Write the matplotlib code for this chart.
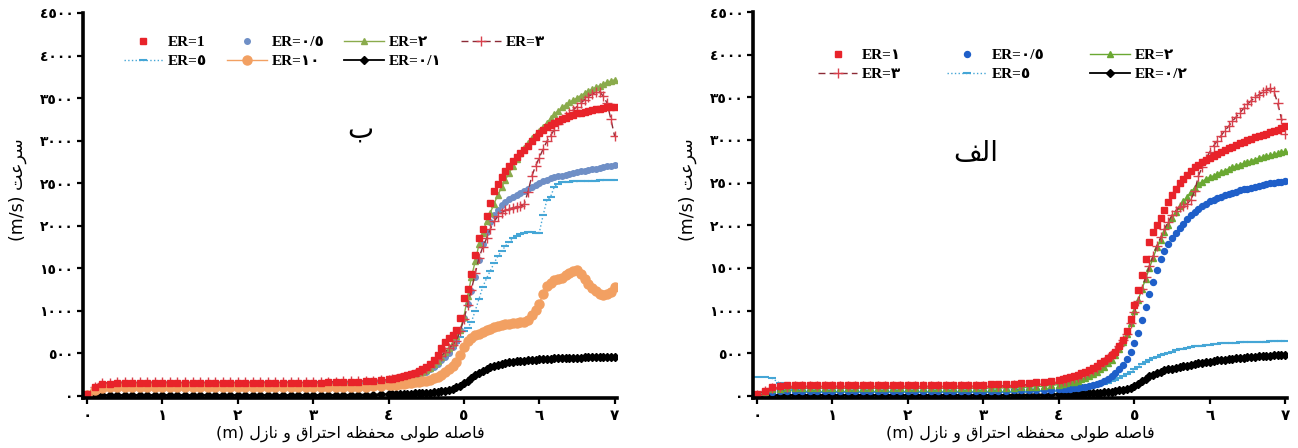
import matplotlib
matplotlib.use("Agg")
import matplotlib.pyplot as plt
import numpy as np

# distance along chamber + nozzle (m): every 0.1 m up to 4 m, then every 0.05 m
x = np.concatenate([np.round(np.arange(0, 41) * 0.1, 2),
                    np.round(4.05 + np.arange(60) * 0.05, 2)])

# ---- panel "ب" (left) ----
er1_b = [20, 100, 140, 145, 148, 150, 150, 150, 150, 150,
         150, 150, 151, 151, 151, 152, 152, 152, 152, 152,
         152, 153, 153, 153, 153, 154, 154, 154, 155, 155,
         156, 157, 158, 160, 162, 165, 168, 172, 177, 184, 193,
         203, 214, 226, 235, 246, 258, 272, 290, 310, 335,
         370, 420, 480, 560, 630, 680, 720, 780, 920, 1150,
         1260, 1430, 1650, 1850, 1960, 2110, 2270, 2410, 2490, 2570,
         2640, 2700, 2760, 2810, 2850, 2890, 2940, 2990, 3040, 3090,
         3130, 3160, 3185, 3210, 3230, 3250, 3270, 3290, 3305, 3320,
         3330, 3340, 3350, 3360, 3368, 3375, 3382, 3390, 3395, 3400]
er05_b = [15, 90, 130, 135, 138, 140, 140, 140, 140, 140,
          140, 140, 140, 140, 140, 140, 140, 140, 140, 140,
          140, 140, 141, 141, 141, 141, 142, 142, 142, 142,
          143, 144, 145, 146, 147, 149, 151, 154, 158, 163, 170,
          175, 180, 187, 195, 204, 215, 228, 245, 263, 285,
          310, 340, 375, 420, 460, 500, 570, 650, 780, 920,
          1080, 1230, 1400, 1600, 1780, 1930, 2040, 2130, 2190, 2240,
          2280, 2310, 2340, 2360, 2385, 2410, 2435, 2460, 2480, 2500,
          2520, 2540, 2555, 2570, 2580, 2590, 2600, 2610, 2620, 2630,
          2638, 2646, 2655, 2664, 2672, 2680, 2688, 2696, 2705, 2715]
er2_b = [10, 100, 140, 145, 148, 150, 150, 150, 150, 150,
         150, 150, 150, 150, 150, 150, 150, 150, 150, 150,
         150, 150, 150, 151, 151, 151, 151, 152, 152, 152,
         153, 154, 155, 156, 157, 159, 161, 164, 167, 171, 175,
         180, 185, 192, 200, 211, 225, 240, 255, 275, 300,
         330, 370, 410, 460, 510, 560, 620, 700, 780, 930,
         1170, 1400, 1580, 1780, 1920, 2050, 2150, 2260, 2360, 2450,
         2540, 2620, 2700, 2780, 2850, 2910, 2970, 3030, 3070, 3110,
         3160, 3210, 3260, 3310, 3350, 3390, 3420, 3450, 3475, 3500,
         3530, 3555, 3580, 3605, 3625, 3645, 3665, 3685, 3700, 3715]
er3_b = [10, 105, 150, 155, 158, 160, 160, 160, 160, 160,
         160, 160, 160, 160, 160, 160, 160, 160, 160, 160,
         160, 160, 161, 161, 161, 162, 162, 162, 163, 163,
         164, 165, 166, 167, 169, 171, 173, 176, 180, 185, 190,
         195, 200, 207, 215, 226, 240, 254, 270, 290, 315,
         350, 390, 430, 470, 515, 560, 600, 650, 760, 900,
         1070, 1250, 1440, 1620, 1750, 1850, 1960, 2050, 2110, 2150,
         2180, 2200, 2210, 2220, 2230, 2250, 2400, 2580, 2700, 2800,
         2900, 2990, 3060, 3130, 3190, 3250, 3290, 3320, 3360, 3400,
         3440, 3480, 3515, 3545, 3570, 3575, 3520, 3440, 3250, 3050]
er5_b = [10, 90, 125, 128, 130, 130, 130, 130, 130, 130,
         130, 130, 130, 130, 130, 130, 130, 130, 130, 130,
         130, 130, 130, 131, 131, 131, 131, 132, 132, 132,
         133, 134, 135, 136, 137, 139, 141, 144, 148, 153, 160,
         165, 170, 177, 185, 194, 205, 218, 235, 253, 275,
         300, 330, 370, 420, 460, 500, 560, 620, 690, 760,
         800, 870, 1000, 1140, 1280, 1380, 1470, 1560, 1640, 1700,
         1760, 1810, 1850, 1880, 1900, 1920, 1925, 1925, 1915, 1920,
         2120, 2300, 2340, 2460, 2490, 2510, 2515, 2518, 2520, 2520,
         2522, 2525, 2527, 2530, 2530, 2532, 2533, 2535, 2535, 2535]
er10_b = [10, 70, 95, 100, 100, 100, 100, 100, 100, 100,
          100, 100, 100, 100, 100, 100, 100, 100, 100, 100,
          100, 100, 100, 100, 100, 100, 100, 100, 100, 100,
          100, 100, 101, 102, 103, 105, 107, 110, 114, 120, 126,
          130, 133, 137, 142, 147, 152, 158, 165, 172, 180,
          192, 205, 225, 245, 275, 310, 350, 400, 480, 580,
          640, 680, 710, 730, 750, 770, 790, 810, 825, 835,
          845, 850, 855, 860, 865, 870, 890, 950, 1010, 1080,
          1200, 1290, 1330, 1360, 1375, 1390, 1420, 1440, 1470, 1480,
          1430, 1370, 1320, 1270, 1230, 1200, 1190, 1195, 1220, 1280]
er01_b = [0, 5, 8, 10, 10, 10, 10, 10, 10, 10,
          10, 10, 10, 10, 10, 10, 10, 10, 10, 10,
          10, 10, 10, 10, 10, 10, 10, 10, 10, 10,
          10, 11, 11, 12, 12, 13, 14, 15, 16, 17, 18,
          19, 20, 21, 23, 24, 26, 28, 30, 32, 35,
          38, 42, 47, 52, 59, 68, 80, 100, 120, 150,
          180, 210, 240, 270, 295, 315, 335, 350, 364, 375,
          385, 395, 400, 405, 410, 415, 420, 423, 427, 430,
          432, 435, 438, 440, 442, 445, 446, 448, 449, 450,
          451, 452, 453, 454, 455, 456, 457, 458, 459, 460]

# ---- panel "الف" (right) ----
er1_a = [20, 60, 100, 120, 125, 128, 130, 130, 130, 130,
         130, 130, 130, 130, 130, 130, 130, 130, 130, 130,
         130, 130, 130, 130, 130, 130, 131, 131, 131, 132,
         133, 135, 137, 140, 143, 147, 152, 158, 165, 175, 190,
         200, 210, 222, 235, 250, 265, 282, 300, 322, 350,
         380, 410, 440, 475, 520, 580, 660, 760, 900, 1060,
         1240, 1420, 1600, 1800, 1920, 2000, 2090, 2180, 2270, 2360,
         2430, 2490, 2540, 2590, 2640, 2680, 2710, 2740, 2765, 2790,
         2815, 2840, 2860, 2880, 2900, 2920, 2940, 2960, 2980, 3000,
         3015, 3030, 3045, 3060, 3075, 3090, 3105, 3120, 3140, 3160]
er05_a = [10, 30, 45, 55, 58, 60, 60, 60, 60, 60,
          60, 60, 60, 60, 60, 60, 60, 60, 60, 60,
          60, 60, 60, 60, 60, 60, 60, 60, 60, 60,
          60, 60, 61, 62, 63, 64, 66, 68, 70, 73, 77,
          79, 82, 86, 90, 95, 100, 107, 115, 124, 135,
          150, 170, 195, 230, 265, 310, 360, 430, 510, 620,
          740, 890, 1040, 1190, 1340, 1480, 1600, 1700, 1780, 1850,
          1910, 1970, 2020, 2070, 2115, 2160, 2195, 2230, 2255, 2280,
          2300, 2320, 2335, 2350, 2365, 2380, 2395, 2410, 2420, 2430,
          2440, 2450, 2460, 2470, 2480, 2490, 2498, 2505, 2512, 2520]
er2_a = [10, 50, 75, 85, 88, 90, 90, 90, 90, 90,
         90, 90, 90, 90, 90, 90, 90, 90, 90, 90,
         90, 90, 90, 90, 90, 90, 90, 90, 90, 90,
         90, 91, 92, 94, 96, 99, 103, 108, 115, 123, 133,
         140, 148, 157, 168, 180, 195, 212, 230, 253, 280,
         310, 340, 380, 420, 480, 550, 630, 720, 850, 1000,
         1120, 1250, 1370, 1500, 1620, 1740, 1830, 1920, 2000, 2080,
         2150, 2220, 2280, 2330, 2390, 2440, 2480, 2510, 2540, 2560,
         2580, 2600, 2620, 2640, 2660, 2680, 2695, 2710, 2725, 2740,
         2755, 2770, 2785, 2800, 2810, 2820, 2832, 2845, 2855, 2865]
er3_a = [15, 60, 95, 105, 108, 110, 110, 110, 110, 110,
         110, 110, 110, 110, 110, 110, 110, 110, 110, 110,
         110, 110, 110, 110, 110, 110, 111, 111, 111, 112,
         113, 115, 117, 120, 123, 127, 132, 138, 145, 152, 160,
         170, 180, 192, 205, 222, 240, 260, 280, 305, 330,
         360, 400, 440, 480, 530, 580, 650, 720, 850, 980,
         1110, 1250, 1390, 1520, 1640, 1760, 1860, 1960, 2040, 2120,
         2170, 2210, 2230, 2250, 2300, 2400, 2580, 2680, 2780, 2860,
         2930, 2990, 3050, 3110, 3160, 3220, 3270, 3320, 3370, 3420,
         3460, 3500, 3530, 3560, 3590, 3605, 3570, 3430, 3250, 3070]
er5_a = [220, 225, 205, 150, 95, 65, 55, 50, 50, 48,
         48, 47, 47, 47, 46, 46, 46, 46, 46, 46,
         46, 46, 46, 46, 46, 46, 46, 46, 46, 46,
         47, 47, 48, 48, 49, 50, 51, 53, 55, 57, 60,
         61, 63, 65, 67, 70, 75, 82, 90, 100, 110,
         125, 140, 155, 170, 190, 210, 235, 260, 285, 310,
         340, 370, 395, 420, 440, 460, 475, 490, 505, 520,
         533, 545, 555, 565, 573, 580, 585, 590, 595, 600,
         605, 610, 614, 618, 620, 622, 624, 626, 628, 630,
         632, 633, 635, 636, 637, 638, 639, 640, 641, 642]
er02_a = [0, 5, 8, 10, 10, 10, 10, 10, 10, 10,
          10, 10, 10, 10, 10, 10, 10, 10, 10, 10,
          10, 10, 10, 10, 10, 10, 10, 10, 10, 10,
          10, 11, 11, 12, 12, 13, 14, 15, 16, 17, 18,
          19, 20, 21, 23, 25, 27, 29, 31, 33, 36,
          39, 42, 46, 50, 57, 65, 74, 85, 98, 115,
          140, 170, 200, 230, 250, 270, 285, 300, 310, 320,
          328, 335, 345, 355, 365, 375, 383, 390, 395, 400,
          408, 415, 420, 425, 430, 435, 440, 445, 448, 452,
          456, 460, 463, 466, 469, 472, 475, 478, 480, 483]

xticks = [0, 1, 2, 3, 4, 5, 6, 7]
yticks = [0, 500, 1000, 1500, 2000, 2500, 3000, 3500, 4000, 4500]

AR_DIGITS = str.maketrans("0123456789", "٠١٢٣٤٥٦٧٨٩")

# presentation forms: isolated, final, initial, medial (None = right-joining only)
FORMS = {
    'ا': ('\uFE8D', '\uFE8E', None, None),
    'ب': ('\uFE8F', '\uFE90', '\uFE91', '\uFE92'),
    'ت': ('\uFE95', '\uFE96', '\uFE97', '\uFE98'),
    'ح': ('\uFEA1', '\uFEA2', '\uFEA3', '\uFEA4'),
    'ر': ('\uFEAD', '\uFEAE', None, None),
    'ز': ('\uFEAF', '\uFEB0', None, None),
    'س': ('\uFEB1', '\uFEB2', '\uFEB3', '\uFEB4'),
    'ص': ('\uFEB9', '\uFEBA', '\uFEBB', '\uFEBC'),
    'ط': ('\uFEC1', '\uFEC2', '\uFEC3', '\uFEC4'),
    'ظ': ('\uFEC5', '\uFEC6', '\uFEC7', '\uFEC8'),
    'ع': ('\uFEC9', '\uFECA', '\uFECB', '\uFECC'),
    'ف': ('\uFED1', '\uFED2', '\uFED3', '\uFED4'),
    'ق': ('\uFED5', '\uFED6', '\uFED7', '\uFED8'),
    'ل': ('\uFEDD', '\uFEDE', '\uFEDF', '\uFEE0'),
    'م': ('\uFEE1', '\uFEE2', '\uFEE3', '\uFEE4'),
    'ن': ('\uFEE5', '\uFEE6', '\uFEE7', '\uFEE8'),
    'ه': ('\uFEE9', '\uFEEA', '\uFEEB', '\uFEEC'),
    'و': ('\uFEED', '\uFEEE', None, None),
    'ی': ('\uFBFC', '\uFBFD', '\uFBFE', '\uFBFF'),
}


def shape_ar(text):
    # join letters and put them in visual (left-to-right) order
    out = []
    for i, ch in enumerate(text):
        if ch not in FORMS:
            out.append(ch)
            continue
        prev = text[i - 1] if i > 0 else ''
        nxt = text[i + 1] if i + 1 < len(text) else ''
        jp = prev in FORMS and FORMS[prev][2] is not None
        jn = nxt in FORMS and FORMS[ch][2] is not None
        iso, fin, ini, med = FORMS[ch]
        if jp and jn:
            out.append(med)
        elif jp:
            out.append(fin)
        elif jn:
            out.append(ini)
        else:
            out.append(iso)
    return ''.join(out)[::-1]


xlabel = "(m) " + shape_ar("فاصله طولی محفظه احتراق و نازل")
ylabel = "(m/s) " + shape_ar("سرعت")

RED = '#e8232a'
GREEN = '#8aab4c'
LBLUE = '#45a6d6'
ORANGE = '#f2a062'
DRED = '#8c2a36'

fig = plt.figure(figsize=(12.98, 4.48), dpi=100)
ax_b = fig.add_axes([0.0641, 0.1116, 0.4112, 0.8594])
ax_a = fig.add_axes([0.5803, 0.1116, 0.4116, 0.8616])


def style_axes(ax):
    ax.set_xlim(-0.05, 7.03)
    ax.set_ylim(-25, 4500)
    for s in ['top', 'right']:
        ax.spines[s].set_visible(False)
    for s in ['left', 'bottom']:
        ax.spines[s].set_linewidth(2.6)
    ax.set_xticks(xticks)
    ax.set_yticks(yticks)
    ax.set_xticklabels([str(t).translate(AR_DIGITS) for t in xticks],
                       fontsize=11, fontweight='bold', family='DejaVu Sans')
    ax.set_yticklabels([str(t).translate(AR_DIGITS) for t in yticks],
                       fontsize=10, fontweight='bold', family='DejaVu Sans')
    ax.tick_params(direction='out', length=4, width=1.6, pad=3)
    ax.set_xlabel(xlabel, fontsize=11.5, family='DejaVu Sans', labelpad=2)
    ax.set_ylabel(ylabel, fontsize=12.5, family='DejaVu Sans')
    ax.yaxis.set_label_coords(-0.106, 0.54)


legfont = {'family': ['Liberation Serif', 'DejaVu Sans'], 'weight': 'bold', 'size': 11}

# left panel
h = {}
h['0/1'], = ax_b.plot(x, er01_b, color='black', lw=1.3, marker='D', ms=3.6, label='ER=٠/١')
h['5'], = ax_b.plot(x, er5_b, color=LBLUE, lw=1, ls=':', marker='_', ms=6, mew=1.5, label='ER=٥')
h['0/5'], = ax_b.plot(x, er05_b, ls='none', color='#6f8fc6', marker='o', ms=4, label='ER=٠/٥')
h['2'], = ax_b.plot(x, er2_b, color=GREEN, lw=1, marker='^', ms=5, label='ER=٢')
h['3'], = ax_b.plot(x, er3_b, color=DRED, lw=1, ls=(0, (5, 3)), marker='+', ms=7, mec='#d8404c',
                    mew=1, label='ER=٣')
h['10'], = ax_b.plot(x, er10_b, color=ORANGE, lw=1, marker='o', ms=6.5, label='ER=١٠')
h['1'], = ax_b.plot(x, er1_b, ls='none', color=RED, marker='s', ms=5, label='ER=1')
style_axes(ax_b)
order = ['1', '5', '0/5', '10', '2', '0/1', '3']
fig.legend([h[k] for k in order], [h[k].get_label() for k in order], ncol=4,
           loc='upper left', bbox_to_anchor=(116 / 1298, 1 - 28 / 448),
           frameon=False, prop=legfont, handlelength=2.6, handletextpad=0.3,
           columnspacing=1.3, labelspacing=0.35, borderpad=0)
ax_b.text(3.45, 3040, 'ب', fontsize=20, family='DejaVu Sans')

# right panel
g = {}
g['0/2'], = ax_a.plot(x, er02_a, color='black', lw=1.3, marker='D', ms=3.6, label='ER=٠/٢')
g['5'], = ax_a.plot(x, er5_a, color=LBLUE, lw=1, ls=':', marker='_', ms=6, mew=1.5, label='ER=٥')
g['0/5'], = ax_a.plot(x, er05_a, ls='none', color='#1f5fc9', marker='o', ms=4.3, label='ER=٠/٥')
g['2'], = ax_a.plot(x, er2_a, color='#6aa832', lw=1, marker='^', ms=5, label='ER=٢')
g['3'], = ax_a.plot(x, er3_a, color=DRED, lw=1, ls=(0, (5, 3)), marker='+', ms=7, mec='#d8404c',
                    mew=1, label='ER=٣')
g['1'], = ax_a.plot(x, er1_a, ls='none', color=RED, marker='s', ms=5, label='ER=١')
style_axes(ax_a)
order = ['1', '3', '0/5', '5', '2', '0/2']
fig.legend([g[k] for k in order], [g[k].get_label() for k in order], ncol=3,
           loc='upper left', bbox_to_anchor=(810 / 1298, 1 - 41 / 448),
           frameon=False, prop=legfont, handlelength=2.6, handletextpad=0.3,
           columnspacing=3.0, labelspacing=0.35, borderpad=0)
ax_a.text(2.6, 2750, shape_ar('الف'), fontsize=20, family='DejaVu Sans')

fig.savefig('out.png', dpi=100)
